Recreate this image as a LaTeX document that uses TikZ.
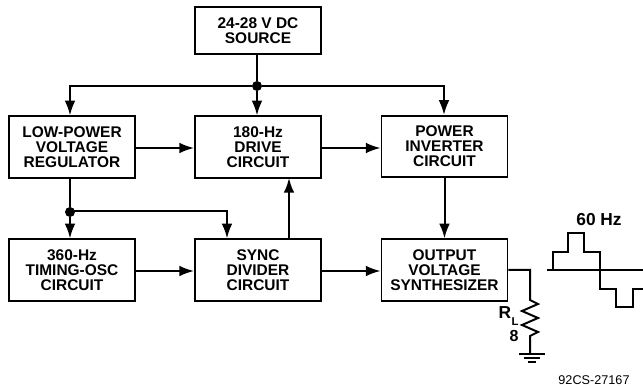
\documentclass[tikz,border=0pt]{standalone}
\usepackage{fontspec}
\setmainfont{Liberation Sans}
\usetikzlibrary{arrows.meta,calc}
\tikzset{
 x=0.75pt,y=-0.75pt,
 blk/.style={draw,line width=1.4pt,minimum width=94.5pt,minimum height=46pt,inner sep=0pt,align=center,font=\fontsize{11.6}{11.2}\selectfont\bfseries,anchor=center},
 wire/.style={line width=1.5pt},
 arr/.style={wire,-{Latex[length=11pt,width=8pt]}},
 jn/.style={circle,fill=black,inner sep=0pt,minimum size=7.5pt},
 lbl/.style={inner sep=0pt}
}
\begin{document}
\begin{tikzpicture}
\useasboundingbox (0,0) rectangle (643,388);
\node[blk,minimum height=35pt] (src) at (258,30.5) {24-28 V DC\\SOURCE};
\node[blk] (reg) at (72,147) {LOW-POWER\\VOLTAGE\\REGULATOR};
\node[blk] (drv) at (258,147) {180-Hz\\DRIVE\\CIRCUIT};
\node[blk] (inv) at (444.5,146.5) {POWER\\INVERTER\\CIRCUIT};
\node[blk] (osc) at (72,270) {360-Hz\\TIMING-OSC\\CIRCUIT};
\node[blk] (syn) at (258,270) {SYNC\\DIVIDER\\CIRCUIT};
\node[blk] (out) at (444.5,270) {OUTPUT\\VOLTAGE\\SYNTHESIZER};
\node[jn] (j1) at (257,86) {};
\node[jn] (j2) at (70,212) {};
\coordinate (bl) at (70,86);
\coordinate (br) at (444,86);
\coordinate (t) at (227,211);
\coordinate (c1) at (530,270);
\coordinate (r1) at (530,300);
\coordinate (r2) at (530,342);
\coordinate (g) at (530,354);
\draw[wire] (src.south-|j1) -- (j1);
\draw[arr] (j1) -- (j1|-drv.north);
\draw[arr] (j1) -- (bl) -- (bl|-reg.north);
\draw[arr] (j1) -- (br) -- (br|-inv.north);
\draw[arr] (reg.east|-0,148) -- (drv.west|-0,148);
\draw[arr] (drv.east|-0,148) -- (inv.west|-0,148);
\draw[arr] (inv) -- (out);
\draw[arr] (289,240) -- (289,178);
\draw[wire] (70,178) -- (j2);
\draw[arr] (j2) -- (j2|-osc.north);
\draw[arr] (j2.center|-t) -- (t) -- (t|-syn.north);
\draw[arr] (osc.east|-0,271) -- (syn.west|-0,271);
\draw[arr] (syn.east|-0,271) -- (out.west|-0,271);
\draw[wire] (out.east|-0,270) -- (c1) -- (r1)
  -- ++(8,4) -- ++(-16,7) -- ++(16,7) -- ++(-16,7) -- ++(16,7) -- ++(-8,4) -- (r2) -- (g);
\draw[wire] (519,354) -- (545,354);
\draw[wire] (524,358) -- (540,358);
\draw[line width=1.8pt] (528,362) -- (536,362);
\node[lbl,font=\fontsize{13}{14}\selectfont\bfseries] (rl) at (505,313) {R};
\node[lbl,font=\fontsize{8.5}{9}\selectfont\bfseries] (rs) at (515,322) {L};
\node[lbl,font=\fontsize{12}{13}\selectfont\bfseries] (rv) at (514,336) {8};
\node[lbl,font=\fontsize{13}{14}\selectfont\bfseries] (hz) at (599,220) {60 Hz};
\draw[line width=1pt] (547,270) -- (643,270);
\draw[line width=1.8pt] (553,270) -- (553,252) -- (568,252) -- (568,233) -- (584,233) -- (584,252) -- (600,252) -- (600,289) -- (616,289) -- (616,307) -- (633,307) -- (633,289) -- (643,289);
\node[lbl,font=\fontsize{9.5}{10}\selectfont] (id) at (594,380) {92CS-27167};
\end{tikzpicture}
\end{document}
